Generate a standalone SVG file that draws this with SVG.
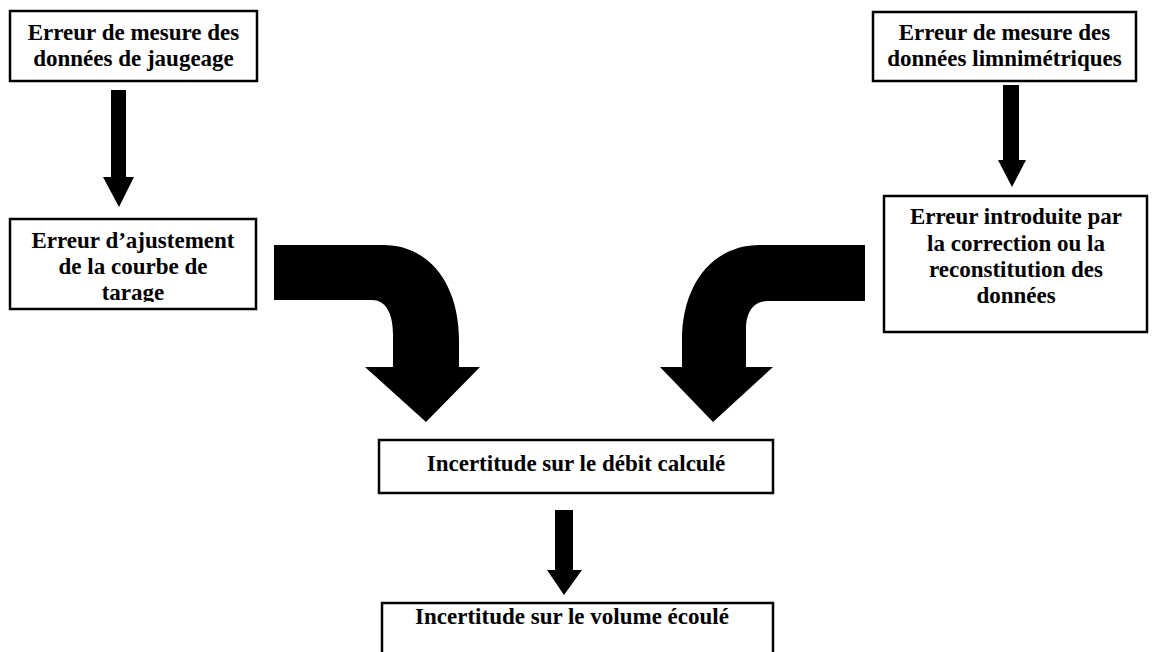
<svg xmlns="http://www.w3.org/2000/svg" width="1154" height="652" viewBox="0 0 1154 652">
<style>
  .box { fill: #fff; stroke: #000; stroke-width: 2.5; }
  .t { font-family: "Liberation Serif", "Times New Roman", serif; font-weight: bold; font-size: 23px; fill: #000; text-anchor: middle; }
  .arr { fill: #000; stroke: none; }
</style>
<defs>
  <clipPath id="clip3"><rect x="10" y="219" width="246" height="83"/></clipPath>
</defs>
<rect width="1154" height="652" fill="#fff"/>

<g id="connectors">
  <path class="arr" d="M111,90 L126,90 L126,177 L134,177 L119,207 L103,177 L111,177 Z"/>
  <path class="arr" d="M1003,85 L1019,85 L1019,160 L1026,160 L1012,187 L998,160 L1003,160 Z"/>
  <path class="arr" d="M274,245 L383,245 C430,245 459,285 459,340 L459,367 L480,367 L426,422 L365,367 L393,367 L393,335 C393,312 385,300 372,300 L274,300 Z"/>
  <path class="arr" d="M865,245 L760,245 C712,245 682,285 682,340 L682,367 L660,367 L713,422 L773,367 L746,367 L746,330 C746,310 755,301 768,301 L865,301 Z"/>
  <path class="arr" d="M555,510 L573,510 L573,570 L582,570 L564,595 L547,570 L555,570 Z"/>
</g>

<g id="node-jaugeage">
  <rect class="box" x="10" y="11" width="247" height="70"/>
  <text class="t" x="133.5" y="40">Erreur de mesure des</text>
  <text class="t" x="133.5" y="66">données de jaugeage</text>
</g>

<g id="node-limni">
  <rect class="box" x="873" y="12" width="263" height="69"/>
  <text class="t" x="1004.5" y="40">Erreur de mesure des</text>
  <text class="t" x="1004.5" y="66">données limnimétriques</text>
</g>

<g id="node-ajustement">
  <rect class="box" x="10" y="219" width="246" height="90"/>
  <g clip-path="url(#clip3)">
    <text class="t" x="133" y="248">Erreur d’ajustement</text>
    <text class="t" x="133" y="274">de la courbe de</text>
    <text class="t" x="133" y="300">tarage</text>
  </g>
</g>

<g id="node-correction">
  <rect class="box" x="884" y="196" width="263" height="136"/>
  <text class="t" x="1016" y="224">Erreur introduite par</text>
  <text class="t" x="1016" y="251">la correction ou la</text>
  <text class="t" x="1016" y="277">reconstitution des</text>
  <text class="t" x="1016" y="303">données</text>
</g>

<g id="node-debit">
  <rect class="box" x="379" y="440" width="394" height="53"/>
  <text class="t" x="576" y="471">Incertitude sur le débit calculé</text>
</g>

<g id="node-volume">
  <rect class="box" x="382" y="603" width="391" height="60"/>
  <text class="t" x="572" y="624">Incertitude sur le volume écoulé</text>
</g>
</svg>
